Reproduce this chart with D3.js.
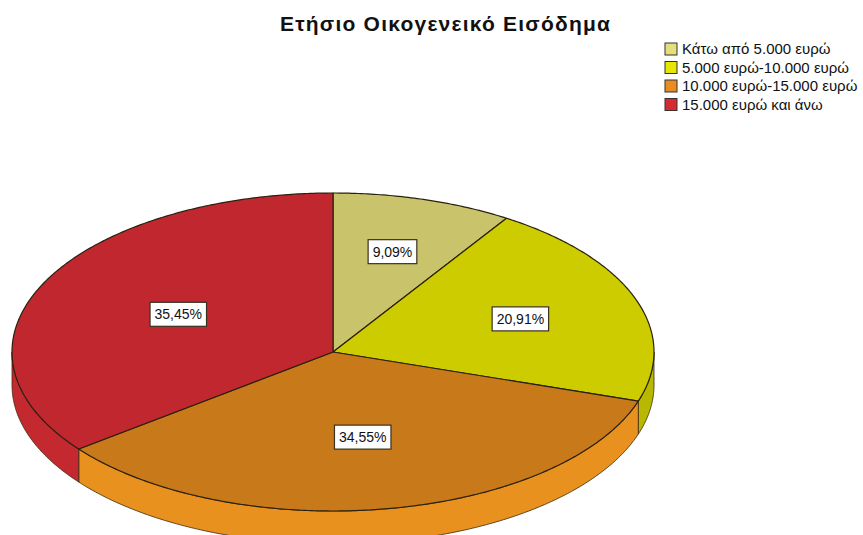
<!DOCTYPE html>
<html>
<head>
<meta charset="utf-8">
<script src="https://cdn.jsdelivr.net/npm/d3@7"></script>
<style>
  html, body { margin: 0; padding: 0; background: #fff; }
  svg { display: block; font-family: "Liberation Sans", Arial, sans-serif; }
</style>
</head>
<body>
<svg id="chart" width="863" height="535"></svg>
<script>
// Annual household income distribution
const title = "Ετήσιο Οικογενεικό Εισόδημα";
const categories = [
  "Κάτω από 5.000 ευρώ",
  "5.000 ευρώ-10.000 ευρώ",
  "10.000 ευρώ-15.000 ευρώ",
  "15.000 ευρώ και άνω"
];
const percents = [9.09, 20.91, 34.55, 35.45];
const labels = ["9,09%", "20,91%", "34,55%", "35,45%"];

const topColors    = ["#c9c46b", "#cccc00", "#c87a1a", "#c1272e"];
const sideColors   = ["#b9b45c", "#b8b800", "#e8911e", "#c4292f"];
const legendColors = ["#e4df7c", "#e6e600", "#e98d20", "#d62a30"];

const svg = d3.select("#chart");

// Tilted pie geometry
const cx = 333, cy = 352, rx = 321, ry = 159, depth = 33;

const topColor = d3.scaleOrdinal().domain(categories).range(topColors);
const sideColor = d3.scaleOrdinal().domain(categories).range(sideColors);
const legendColor = d3.scaleOrdinal().domain(categories).range(legendColors);

const data = categories.map((c, i) => ({ cat: c, value: percents[i], label: labels[i] }));
const arcs = d3.pie().sort(null).value(d => d.value).startAngle(0).endAngle(2 * Math.PI)(data);

// angle measured clockwise from 12 o'clock, r as fraction of radius
const px = (a, r) => cx + rx * r * Math.sin(a);
const py = (a, r) => cy - ry * r * Math.cos(a);

function arcPoints(a0, a1, r, dy) {
  const n = Math.max(2, Math.ceil(Math.abs(a1 - a0) / 0.01));
  const pts = [];
  for (let i = 0; i <= n; i++) {
    const a = a0 + (a1 - a0) * i / n;
    pts.push([px(a, r), py(a, r) + dy]);
  }
  return pts;
}

const line = d3.line();
const g = svg.append("g");

// Side walls (only the front half faces the viewer)
arcs.forEach(d => {
  const a0 = Math.max(d.startAngle, Math.PI / 2);
  const a1 = Math.min(d.endAngle, 3 * Math.PI / 2);
  if (a1 <= a0) return;
  const topEdge = arcPoints(a0, a1, 1, 0);
  const botEdge = arcPoints(a1, a0, 1, depth);
  g.append("path")
    .attr("d", line(topEdge.concat(botEdge)) + "Z")
    .attr("fill", sideColor(d.data.cat))
    .attr("stroke", "#3a2a10")
    .attr("stroke-width", 0.8)
    .attr("stroke-linejoin", "round");
});

// Top faces
arcs.forEach(d => {
  const pts = [[cx, cy]].concat(arcPoints(d.startAngle, d.endAngle, 1, 0));
  g.append("path")
    .attr("d", line(pts) + "Z")
    .attr("fill", topColor(d.data.cat))
    .attr("stroke", "#2a2010")
    .attr("stroke-width", 1.2)
    .attr("stroke-linejoin", "round");
});

// Value labels in boxes, placed at each sector's centroid
arcs.forEach(d => {
  const theta = d.endAngle - d.startAngle;
  const labelR = 4 * Math.sin(theta / 2) / (3 * theta);
  const mid = (d.startAngle + d.endAngle) / 2;
  const x = px(mid, labelR), y = py(mid, labelR);
  const lg = g.append("g").attr("transform", `translate(${x},${y})`);
  const t = lg.append("text")
    .attr("text-anchor", "middle")
    .attr("dy", "0.36em")
    .attr("font-size", 14)
    .attr("fill", "#111")
    .text(d.data.label);
  const w = t.node().getComputedTextLength() + 9;
  lg.insert("rect", "text")
    .attr("x", -w / 2).attr("y", -12)
    .attr("width", w).attr("height", 24)
    .attr("fill", "#fff")
    .attr("stroke", "#3a3020")
    .attr("stroke-width", 1.2);
});

// Title
svg.append("text")
  .attr("x", 445).attr("y", 31)
  .attr("text-anchor", "middle")
  .attr("font-size", 21)
  .attr("font-weight", "bold")
  .attr("textLength", 330)
  .attr("lengthAdjust", "spacing")
  .attr("fill", "#111")
  .text(title);

// Legend
const legend = svg.append("g").attr("transform", "translate(665,43)");
categories.forEach((c, i) => {
  const row = legend.append("g").attr("transform", `translate(0,${i * 18.5})`);
  row.append("rect")
    .attr("width", 12).attr("height", 12)
    .attr("fill", legendColor(c))
    .attr("stroke", "#333").attr("stroke-width", 1);
  row.append("text")
    .attr("x", 17).attr("y", 6)
    .attr("dy", "0.36em")
    .attr("font-size", 15)
    .attr("fill", "#111")
    .text(c);
});
</script>
</body>
</html>
